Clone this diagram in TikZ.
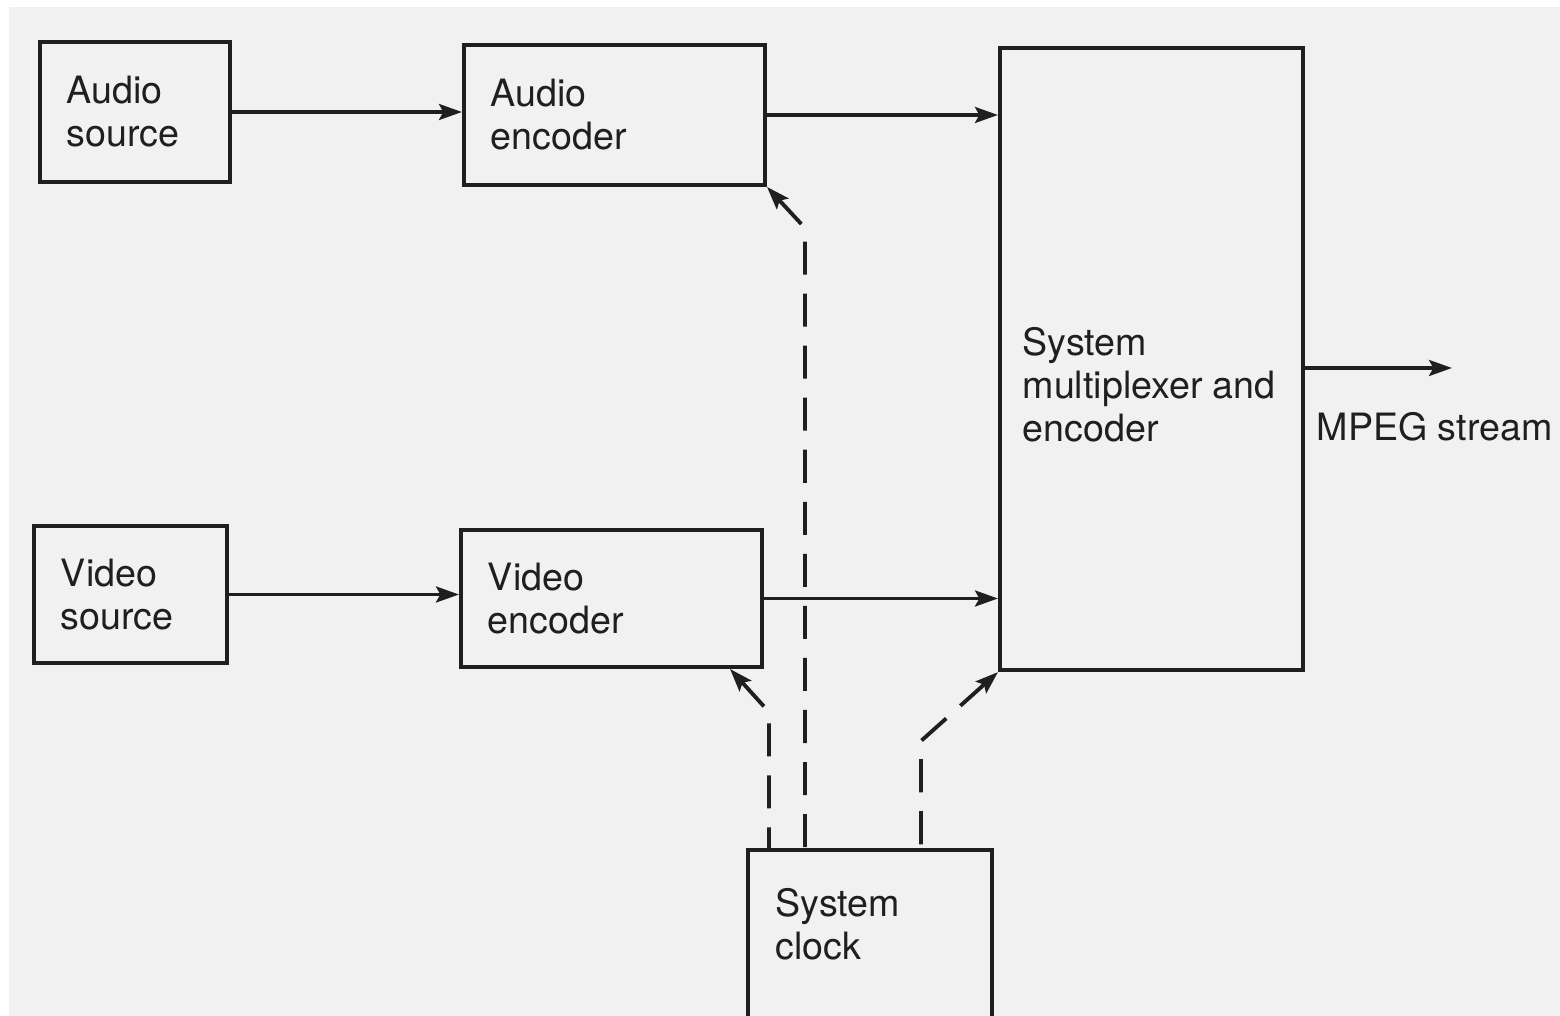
\documentclass[tikz,border=0pt]{standalone}
\usepackage{fontspec}
\setmainfont{TeX Gyre Heros}
\usepackage{tikz}
\usetikzlibrary{arrows.meta,positioning,calc}
\definecolor{paper}{gray}{0.945}
\definecolor{ink}{gray}{0.12}

\begin{document}
\begin{tikzpicture}[
    x=0.01cm, y=-0.01cm,
    block/.style={rectangle, draw=ink, line width=1.1pt, align=left, inner xsep=0.27cm, inner ysep=0pt, font=\fontsize{10.7}{12.2}\selectfont, text=ink},
    txt/.style={align=left, inner sep=0pt, anchor=north west, font=\fontsize{10.7}{12.2}\selectfont, text=ink},
    arrow/.style={-{Stealth[length=6.5pt, width=4.5pt, inset=1.2pt]}, line width=1.1pt, draw=ink},
    clockline/.style={{Stealth[length=6.5pt, width=4.5pt, inset=1.2pt]}-, line width=1.1pt, draw=ink, dash pattern=on 9.4pt off 5.4pt}
]

% Paper
\useasboundingbox (0,0) rectangle (1560,1016);
\fill[paper] (9,7) rectangle (1560,1016);

% Sources
\node[block, minimum width=1.9cm, minimum height=1.4cm, text width=1.36cm] (asrc) at (135,112) {Audio\\source};
\node[block, minimum width=1.93cm, minimum height=1.37cm, text width=1.39cm] (vsrc) at (130.5,594.5) {Video\\source};

% Encoders
\node[block, minimum width=3.01cm, minimum height=1.4cm, text width=2.47cm] (aenc) at (614.5,115) {Audio\\encoder};
\node[block, minimum width=3.01cm, minimum height=1.37cm, text width=2.47cm] (venc) at (611.5,598.5) {Video\\encoder};

% Multiplexer
\node[block, minimum width=3.03cm, minimum height=6.22cm] (mux) at (1151.5,359) {};
\node[txt] (muxlabel) at (1022,327) {System\\multiplexer and\\encoder};

% Clock
\node[block, minimum width=2.44cm, minimum height=3.5cm] (clock) at (870,1025) {};
\node[txt] (clocklabel) at (775,888) {System\\clock};

% Output
\coordinate (out) at (1452,368);
\node[txt] (streamlabel) at (1316,412) {MPEG stream};

% Data flow
\draw[arrow] (asrc.east) -- (asrc.east -| aenc.west);
\draw[arrow] (aenc.east) -- (aenc.east -| mux.west);
\draw[arrow] (vsrc.east) -- (vsrc.east -| venc.west);
\draw[arrow] (venc.east) -- (venc.east -| mux.west);
\draw[arrow] (mux.east |- out) -- (out);

% Clock lines
\coordinate (abend) at (805,228);
\coordinate (vbend) at (769,712);
\coordinate (mbend) at (921,741);
\draw[clockline] (aenc.south east) -- (abend) -- (clock.north -| abend);
\draw[clockline] ([xshift=-0.34cm]venc.south east) -- (vbend) -- (clock.north -| vbend);
\draw[clockline] (mux.south west) -- (mbend) -- (clock.north -| mbend);

\end{tikzpicture}
\end{document}
